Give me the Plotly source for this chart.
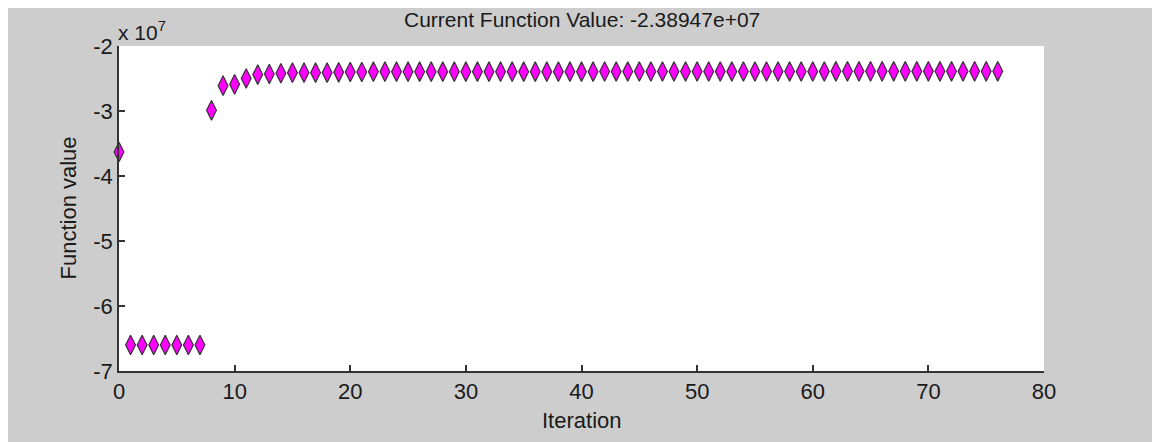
import plotly.graph_objects as go

# Function values in units of 1e7 (axis shows "x 10^7")
iterations = list(range(0, 77))
values = ([-3.63] + [-6.60] * 7 +
          [-2.99, -2.61, -2.59, -2.50, -2.44, -2.43, -2.42,
           -2.41, -2.41, -2.41, -2.41, -2.405, -2.40, -2.40] +
          [-2.395] * 20 + [-2.392] * 20 + [-2.390] * 14 + [-2.38947])

x_ticks = [0, 10, 20, 30, 40, 50, 60, 70, 80]
y_ticks = [-7, -6, -5, -4, -3, -2]
y_tick_text = ["-7", "-6", "-5", "-4", "-3", "-2"]
title_text = "Current Function Value: -2.38947e+07"
x_label = "Iteration"
y_label = "Function value"

FONT = "Liberation Sans, Arial, sans-serif"
GRAY = "#cdcdcd"
AX = "#333333"
TXT = "#1a1a1a"
FS = 21

fig = go.Figure()
fig.add_trace(go.Scatter(
    x=iterations, y=values, mode="markers",
    marker=dict(symbol="diamond-tall", size=14, color="#ff00ff",
                line=dict(color="#333333", width=1.2)),
    showlegend=False, cliponaxis=False))

fig.update_layout(
    width=1160, height=442,
    margin=dict(l=111, r=124, t=38, b=79),
    paper_bgcolor=GRAY, plot_bgcolor="white",
    font=dict(family=FONT, size=FS, color=TXT),
    xaxis=dict(range=[0, 80], tickvals=x_ticks, ticks="inside", ticklen=6,
               tickwidth=1.5, tickcolor=AX, showline=True, linecolor=AX,
               linewidth=1.5, showgrid=False, zeroline=False,
               tickfont=dict(size=22)),
    yaxis=dict(range=[-7, -2], tickvals=y_ticks, ticktext=y_tick_text,
               ticks="inside", ticklen=6, tickwidth=1.5, tickcolor=AX,
               showline=True, linecolor=AX, linewidth=1.5, showgrid=False,
               zeroline=False, tickfont=dict(size=22)),
    annotations=[
        dict(text=title_text, xref="paper", yref="paper", x=0.5,
             y=(363 - 11) / 325, xanchor="center", yanchor="middle",
             showarrow=False, font=dict(size=FS)),
        dict(text="x 10<sup>7</sup>", xref="paper", yref="paper",
             x=-0.003, y=1.0, xanchor="left", yanchor="bottom",
             showarrow=False, font=dict(size=FS)),
        dict(text=x_label, xref="paper", yref="paper", x=0.5,
             y=(371 - 420) / 325, xanchor="center", yanchor="middle",
             showarrow=False, font=dict(size=22)),
        dict(text=y_label, xref="paper", yref="paper",
             x=(68 - 119) / 925, y=0.5, xanchor="center", yanchor="middle",
             textangle=-90, showarrow=False, font=dict(size=22)),
    ],
)

fig.write_html("out.html")
